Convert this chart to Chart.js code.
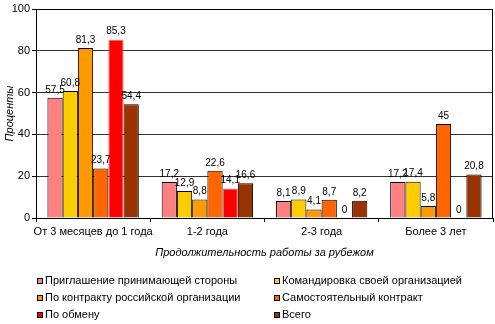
<!DOCTYPE html>
<html>
<head>
<meta charset="utf-8">
<script src="https://cdn.jsdelivr.net/npm/chart.js@4"></script>
<style>
  html, body { margin: 0; padding: 0; background: #fff; }
  #wrap { position: relative; width: 495px; height: 324px; }
</style>
</head>
<body>
<div id="wrap"><canvas id="chart" width="495" height="324"></canvas></div>
<script>
// Categories on the x axis
const categories = ["От 3 месяцев до 1 года", "1-2 года", "2-3 года", "Более 3 лет"];
// Series names (legend)
const seriesNames = [
  "Приглашение принимающей стороны",
  "Командировка своей организацией",
  "По контракту российской организации",
  "Самостоятельный контракт",
  "По обмену",
  "Всего",
];
// Series values, one array per series, in category order
const invitation = [57.5, 17.2, 8.1, 17.2];
const businessTrip = [60.8, 12.9, 8.9, 17.4];
const russianContract = [81.3, 8.8, 4.1, 5.8];
const ownContract = [23.7, 22.6, 8.7, 45];
const exchange = [85.3, 14.1, 0, 0];
const total = [54.4, 16.6, 8.2, 20.8];
// Y axis ticks
const yTicks = [0, 20, 40, 60, 80, 100];

const seriesColors = ["#FF8080", "#FFCC00", "#FF9900", "#FF6600", "#FF0000", "#993300"];
const FONT = "'Liberation Sans', Arial, sans-serif";

/**
 * Writes the value over every bar, with a comma as decimal mark
 */
const valueLabels = {
  id: "valueLabels",
  afterDatasetsDraw(chart) {
    const ctx = chart.ctx;
    ctx.save();
    ctx.font = `10px ${FONT}`;
    ctx.fillStyle = "#000";
    ctx.textAlign = "center";
    ctx.textBaseline = "bottom";
    chart.data.datasets.forEach((ds, i) => {
      const meta = chart.getDatasetMeta(i);
      meta.data.forEach((bar, j) => {
        const text = String(ds.data[j]).replace(".", ",");
        ctx.fillText(text, bar.x, bar.y - 3);
      });
    });
    ctx.restore();
  },
};

/**
 * Solid frame round the plot area (top and right sides too)
 */
const plotFrame = {
  id: "plotFrame",
  afterDraw(chart) {
    const { left, top, right, bottom } = chart.chartArea;
    const ctx = chart.ctx;
    ctx.save();
    ctx.strokeStyle = "#000";
    ctx.lineWidth = 1;
    ctx.strokeRect(Math.round(left) + 0.5, Math.round(top) + 0.5,
      Math.round(right - left) - 1, Math.round(bottom - top));
    ctx.restore();
  },
};

/**
 * Two column legend under the axis title
 */
const gridLegend = {
  id: "gridLegend",
  afterDraw(chart) {
    const ctx = chart.ctx;
    const colX = [37, 274];
    const rowY = [281, 298, 315];
    ctx.save();
    ctx.font = `11px ${FONT}`;
    ctx.textBaseline = "middle";
    ctx.textAlign = "left";
    chart.data.datasets.forEach((ds, i) => {
      const x = colX[i % 2];
      const y = rowY[Math.floor(i / 2)];
      ctx.fillStyle = ds.backgroundColor;
      ctx.fillRect(x, y - 3, 6, 6);
      ctx.strokeStyle = "#000";
      ctx.lineWidth = 1;
      ctx.strokeRect(x + 0.5, y - 2.5, 5, 5);
      ctx.fillStyle = "#000";
      ctx.fillText(ds.label, x + 8, y);
    });
    ctx.restore();
  },
};

const seriesData = [invitation, businessTrip, russianContract, ownContract, exchange, total];
const datasets = seriesNames.map((name, i) => ({
  label: name,
  data: seriesData[i],
  backgroundColor: seriesColors[i],
  borderColor: i === 4 ? "#FF6060" : "#000",
  borderWidth: 1,
  borderSkipped: "bottom",
  categoryPercentage: 0.8,
  barPercentage: 1,
}));

new Chart(document.getElementById("chart"), {
  type: "bar",
  data: { labels: categories, datasets },
  plugins: [valueLabels, plotFrame, gridLegend],
  options: {
    responsive: false,
    animation: false,
    layout: { padding: { top: 9, right: 2, left: 0, bottom: 61 } },
    plugins: {
      legend: { display: false },
      tooltip: { enabled: false },
    },
    scales: {
      x: {
        afterFit(scale) { scale.height = 45; },
        grid: {
          offset: true,
          drawOnChartArea: false,
          drawTicks: true,
          tickLength: 4,
          tickColor: "#000",
        },
        border: { display: true, color: "#000" },
        ticks: {
          color: "#000",
          font: { family: FONT, size: 11 },
          padding: 3,
          maxRotation: 0,
          autoSkip: false,
        },
        title: {
          display: true,
          text: "Продолжительность работы за рубежом",
          color: "#000",
          font: { family: FONT, size: 11, style: "italic" },
          padding: { top: 0, bottom: 3 },
        },
      },
      y: {
        min: 0,
        max: 100,
        afterFit(scale) { scale.width = 36; },
        afterBuildTicks(scale) { scale.ticks = yTicks.map((v) => ({ value: v })); },
        grid: {
          color: "#333",
          borderDash: [3, 2],
          tickLength: 4,
          tickColor: "#000",
          tickBorderDash: [],
        },
        border: { display: true, color: "#000" },
        ticks: { color: "#000", font: { family: FONT, size: 11 }, padding: 2 },
        title: {
          display: true,
          text: "Проценты",
          color: "#000",
          font: { family: FONT, size: 11, style: "italic" },
          padding: { top: 3, bottom: 3 },
        },
      },
    },
  },
});
</script>
</body>
</html>
